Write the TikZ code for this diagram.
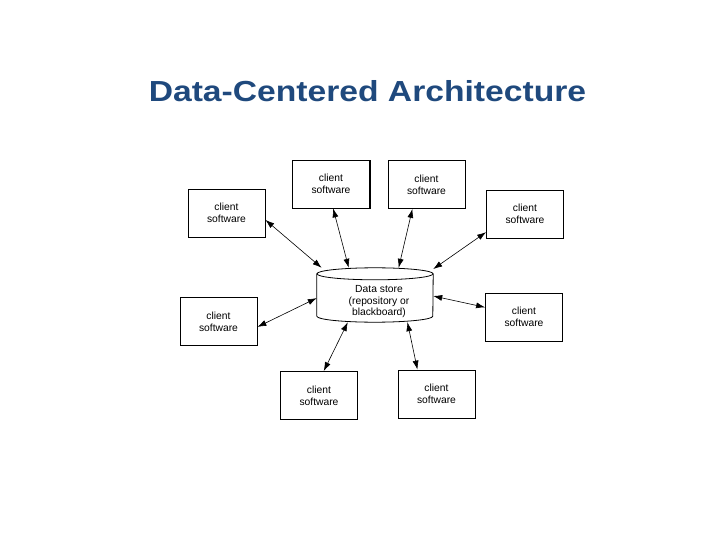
\documentclass[tikz,border=0pt]{standalone}
\usepackage{fontspec}
\setmainfont{Liberation Sans}
\newfontfamily\titlefont{Liberation Sans}[FakeStretch=1.16]
\usetikzlibrary{arrows.meta}
\definecolor{titleblue}{RGB}{31,73,125}

\begin{document}
\begin{tikzpicture}[
    x=1pt, y=-1pt,
    >={Latex[length=9pt,width=6pt]},
    client/.style={
        draw, rectangle, minimum width=77pt, minimum height=48pt,
        align=center, fill=white, line width=0.8pt,
        font=\fontsize{10.3}{12}\selectfont
    },
    link/.style={<->, line width=0.6pt}
]

\useasboundingbox (0,0) rectangle (720,540);

% Title
\node[font=\titlefont\fontsize{29}{32}\selectfont\bfseries, text=titleblue] (title) at (367.5,91) {Data-Centered Architecture};

% -------------------------
% Data store (centre)
% -------------------------
\node[minimum width=116pt, minimum height=54pt, inner sep=0pt] (store) at (375,295) {};
\draw[line width=0.8pt] ([yshift=-6pt]store.north west) -- ([yshift=6pt]store.south west)
    arc[start angle=180, end angle=360, x radius=58pt, y radius=6pt]
    -- ([yshift=-6pt]store.north east);
\draw[line width=0.8pt] ([yshift=-6pt]store.north) ellipse[x radius=58pt, y radius=6pt];
\node[align=center, font=\fontsize{10.3}{11.5}\selectfont] (storetext) at (379,302)
    {Data store\\(repository or\\blackboard)};

% -------------------------
% Client software boxes
% -------------------------
\node[client] (c1) at (226.5,213) {client\\software};
\node[client] (c2) at (331,184) {client\\software};
\draw[line width=1.6pt] (c2.south west) -- (c2.south east) -- (c2.north east);
\node[client] (c3) at (426.5,184.5) {client\\software};
\node[client] (c4) at (525,214) {client\\software};
\node[client] (c5) at (218.5,321.5) {client\\software};
\node[client] (c6) at (524,317) {client\\software};
\node[client] (c7) at (319,395.5) {client\\software};
\node[client] (c8) at (436.5,394) {client\\software};

% -------------------------
% Links to the data store
% -------------------------
\draw[link] (c1.-10) -- (store.153);
\draw[link] (c2.-85) -- (store.134);
\draw[link] (c3.-120) -- (store.49);
\draw[link] (c4.205) -- (store.24);
\draw[link] (c5.-8) -- (store.183);
\draw[link] (c6.166) -- (store.-1);
\draw[link] (c7.79) -- (store.225);
\draw[link] (c8.128) -- (store.-40);

\end{tikzpicture}
\end{document}
